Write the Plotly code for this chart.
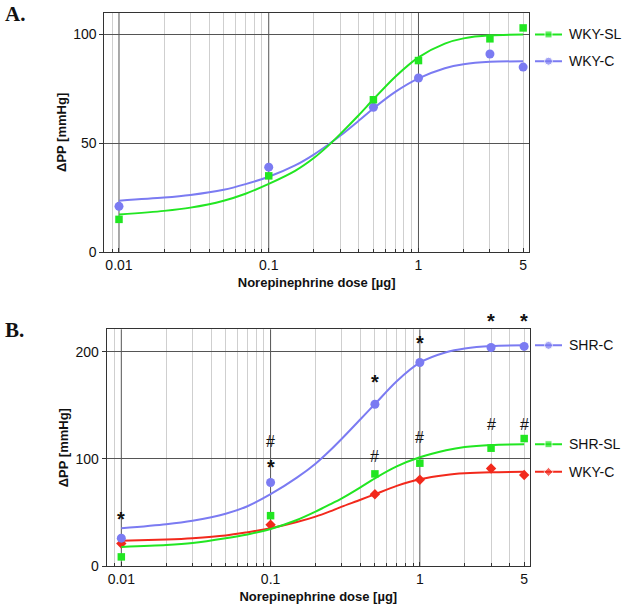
import plotly.graph_objects as go
import math

# ---------------- data ----------------
doses = [0.01, 0.1, 0.5, 1, 3, 5]

# Panel A
a_wky_sl = [15, 35, 70, 88, 98, 103]
a_wky_c = [21, 39, 66.5, 80, 91, 85]

# Panel B
b_shr_c = [26, 78, 151, 190, 204, 205]
b_shr_sl = [8.5, 47, 86, 96, 110, 119]
b_wky_c = [21, 38.5, 67, 80.5, 91, 85]

# fitted curves
curve_doses = [0.01, 0.02, 0.03, 0.05, 0.07, 0.1, 0.15, 0.2, 0.25, 0.3, 0.4, 0.5, 0.7, 1, 1.5, 2, 3, 5]
a_wky_sl_fit = [17.2, 18.9, 20.4, 23.6, 26.8, 31.3, 37.3, 43.2, 48.9, 54.2, 63.0, 70.2, 80.6, 89.5, 95.8, 98.2, 99.6, 100]
a_wky_c_fit = [23.6, 25.0, 26.2, 28.6, 31.2, 34.6, 39.8, 44.8, 49.4, 53.4, 60.4, 66.0, 73.6, 79.8, 84.5, 86.3, 87.4, 87.7]
b_shr_c_fit = [35.2, 39.0, 42.3, 48.8, 55.8, 67.0, 82.5, 95.5, 107.8, 118.8, 137.0, 151.2, 172.5, 189.8, 199.5, 203.0, 205.3, 206]
b_shr_sl_fit = [17.8, 19.6, 21.5, 25.9, 29.5, 34.6, 43.0, 50.8, 57.5, 63.2, 73.5, 81.9, 93.0, 101.5, 108.0, 111.0, 113.0, 113.7]
b_wky_c_fit = [23.5, 24.8, 26.0, 28.5, 31.5, 35.2, 41.0, 46.1, 51.0, 55.4, 61.8, 67.0, 74.8, 81.0, 85.0, 86.5, 87.5, 87.9]

# significance marks (panel B)
star_doses = [0.01, 0.1, 0.5, 1, 3, 5]
star_y = [49, 97, 176, 213, 233.6, 233.6]
hash_doses = [0.1, 0.5, 1, 3, 5]
hash_y = [116, 102, 120, 132, 132]

x_tickvals = [0.01, 0.1, 1, 5]
x_ticktext = ["0.01", "0.1", "1", "5"]
decades = [0.01, 0.1, 1]
minor_vals = [m * d for d in [0.001, 0.01, 0.1, 1] for m in range(2, 10)]
minor_vals = [v for v in minor_vals if 0.0079 < v < 5.5 and v not in (0.01, 0.1, 1)]

A_RANGE = [0, 110]
B_RANGE = [0, 221]

GREEN = "#22e622"
BLUE = "#7b7bf2"
RED = "#f2291c"
FONT = "Liberation Sans, Arial, sans-serif"

fig = go.Figure()

def add_series(xa, ya, fit, pts, color, symbol, msize):
    fig.add_trace(go.Scatter(x=curve_doses, y=fit, mode="lines",
                             line=dict(color=color, width=2, shape="spline", smoothing=0.8),
                             xaxis=xa, yaxis=ya, showlegend=False, hoverinfo="skip"))
    fig.add_trace(go.Scatter(x=doses, y=pts, mode="markers", marker=dict(color=color, symbol=symbol, size=msize),
                             xaxis=xa, yaxis=ya, showlegend=False, cliponaxis=False))

add_series("x", "y", a_wky_c_fit, a_wky_c, BLUE, "circle", 9)
add_series("x", "y", a_wky_sl_fit, a_wky_sl, GREEN, "square", 7.5)
add_series("x2", "y2", b_wky_c_fit, b_wky_c, RED, "diamond", 8)
add_series("x2", "y2", b_shr_sl_fit, b_shr_sl, GREEN, "square", 7.5)
add_series("x2", "y2", b_shr_c_fit, b_shr_c, BLUE, "circle", 9)

# end-of-line labels (legend-like)
def add_label(xa, ya, yval, color, symbol, msize, name):
    fig.add_trace(go.Scatter(x=[0, 0.5, 1], y=[yval] * 3, mode="lines+markers",
                             line=dict(color=color, width=2),
                             marker=dict(color=color, symbol=symbol, size=[0, msize, 0]),
                             xaxis=xa, yaxis=ya, showlegend=False, hoverinfo="skip"))
    fig.add_annotation(x=0.9067, xref="paper", y=yval, yref=ya, text=name, showarrow=False,
                       xanchor="left", yanchor="middle", font=dict(family=FONT, size=14, color="#111"))

add_label("x3", "y3", a_wky_sl_fit[-1], GREEN, "square", 7, "WKY-SL")
add_label("x3", "y3", a_wky_c_fit[-1], BLUE, "circle", 8, "WKY-C")
add_label("x4", "y4", b_shr_c_fit[-1], BLUE, "circle", 8, "SHR-C")
add_label("x4", "y4", b_shr_sl_fit[-1], GREEN, "square", 7, "SHR-SL")
add_label("x4", "y4", b_wky_c_fit[-1], RED, "diamond", 7, "WKY-C")

# significance marks placed in the panel-B domain frame so marks above the axis top stay visible
for d, yv in zip(star_doses, star_y):
    fig.add_annotation(x=math.log10(d), y=yv / B_RANGE[1], xref="x2", yref="y2 domain", text="<b>*</b>",
                       showarrow=False, yanchor="middle", yshift=-5, font=dict(family=FONT, size=20, color="#111"))
for d, yv in zip(hash_doses, hash_y):
    fig.add_annotation(x=math.log10(d), y=yv / B_RANGE[1], xref="x2", yref="y2 domain", text="#",
                       showarrow=False, yanchor="middle", font=dict(family=FONT, size=16, color="#111"))

# panel letters
fig.add_annotation(x=0.004, y=1 - 14 / 609, xref="paper", yref="paper", text="<b>A.</b>", showarrow=False,
                   xanchor="left", yanchor="middle", font=dict(family="Liberation Serif, Times New Roman, serif", size=21, color="#111"))
fig.add_annotation(x=0.004, y=1 - 330 / 609, xref="paper", yref="paper", text="<b>B.</b>", showarrow=False,
                   xanchor="left", yanchor="middle", font=dict(family="Liberation Serif, Times New Roman, serif", size=21, color="#111"))

# dark decade gridlines
for xr, yr in [("x", "y"), ("x2", "y2")]:
    for d in decades:
        fig.add_shape(type="line", xref=xr, yref=f"{yr} domain", x0=d, x1=d, y0=0, y1=1,
                      line=dict(color="#555", width=1), layer="below")

xcommon = dict(type="log", range=[-2.098, 0.738], tickmode="array", tickvals=x_tickvals, ticktext=x_ticktext,
               showgrid=False, zeroline=False, showline=True, mirror=True, linecolor="#333", linewidth=1,
               ticks="inside", ticklen=4, tickcolor="#333", automargin=False,
               minor=dict(tickmode="array", tickvals=minor_vals, showgrid=True, gridcolor="#cfcfcf", gridwidth=1,
                          ticks="inside", ticklen=3, tickcolor="#333"),
               tickfont=dict(family=FONT, size=14, color="#111"),
               title=dict(text="<b>Norepinephrine dose [µg]</b>", font=dict(family=FONT, size=13, color="#111"), standoff=6))
ycommon = dict(showgrid=True, gridcolor="#555", gridwidth=1, zeroline=False, showline=True, mirror=True,
               linecolor="#333", linewidth=1, ticks="outside", ticklen=4, tickcolor="#333", automargin=False,
               tickfont=dict(family=FONT, size=14, color="#111"),
               title=dict(text="<b>ΔPP [mmHg]</b>", font=dict(family=FONT, size=13, color="#111"), standoff=3))

A_DOM = [1 - 252 / 609, 1 - 12.7 / 609]
B_DOM = [1 - 566 / 609, 1 - 329.3 / 609]
LAB_DOM = [535 / 625, 562 / 625]

fig.update_layout(
    width=625, height=609, margin=dict(l=0, r=0, t=0, b=0, autoexpand=False),
    paper_bgcolor="white", plot_bgcolor="white", showlegend=False,
    xaxis=dict(xcommon, domain=[0.1669, 0.8464], anchor="y"),
    yaxis=dict(ycommon, domain=A_DOM, range=A_RANGE, tickvals=[0, 50, 100], anchor="x"),
    xaxis2=dict(xcommon, domain=[0.1707, 0.848], anchor="y2"),
    yaxis2=dict(ycommon, domain=B_DOM, range=B_RANGE, tickvals=[0, 100, 200], anchor="x2"),
    xaxis3=dict(domain=LAB_DOM, range=[0, 1], visible=False, anchor="y3", automargin=False),
    yaxis3=dict(domain=A_DOM, range=A_RANGE, visible=False, anchor="x3", automargin=False),
    xaxis4=dict(domain=LAB_DOM, range=[0, 1], visible=False, anchor="y4", automargin=False),
    yaxis4=dict(domain=B_DOM, range=B_RANGE, visible=False, anchor="x4", automargin=False),
)

fig.write_html("out.html", config={"displayModeBar": False},
               post_script="document.body.style.margin='0';document.body.style.overflow='hidden';")
